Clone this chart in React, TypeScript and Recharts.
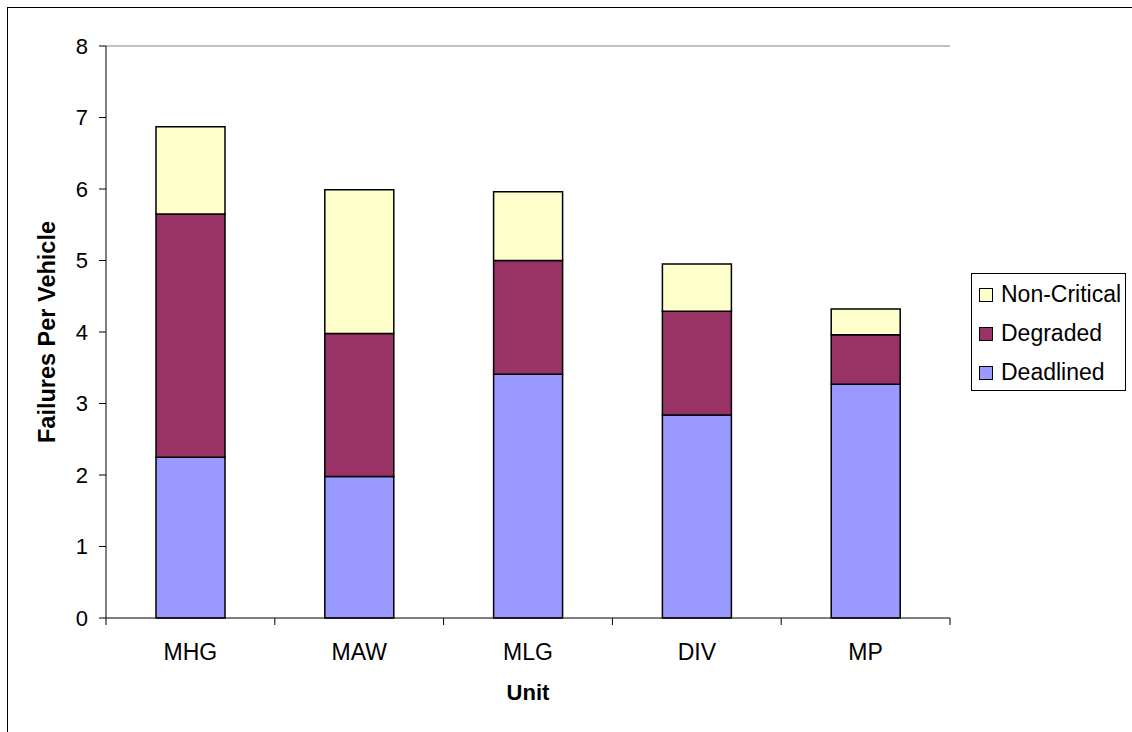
import { BarChart, Bar, XAxis, YAxis, ReferenceLine } from "recharts";

const units = ["MHG", "MAW", "MLG", "DIV", "MP"];
const deadlined = [2.25, 1.98, 3.41, 2.84, 3.27];
const degraded = [3.4, 2.0, 1.59, 1.45, 0.69];
const nonCritical = [1.22, 2.01, 0.96, 0.66, 0.36];
const yTicks = [0, 1, 2, 3, 4, 5, 6, 7, 8];

const data = units.map((unit, i) => ({
  unit,
  deadlined: deadlined[i],
  degraded: degraded[i],
  nonCritical: nonCritical[i],
}));

const FONT = "'Liberation Sans', Arial, sans-serif";
const W = 1124;
const H = 724;
const margin = { top: 38, right: 182, left: 38, bottom: 24 };
const Y_W = 60;
const plotW = W - margin.left - Y_W - margin.right;
const band = plotW / units.length;

// Excel-style ticks sit between categories, label in the middle
function UnitTick(props: any) {
  const { x, y, payload, index } = props;
  const half = band / 2;
  return (
    <g>
      <line x1={x - half} x2={x - half} y1={y} y2={y + 7} stroke="#000" />
      {index === units.length - 1 && (
        <line x1={x + half} x2={x + half} y1={y} y2={y + 7} stroke="#000" />
      )}
      <text x={x} y={y + 26} dy="0.71em" textAnchor="middle" fontSize={23} fill="#000" fontFamily={FONT}>
        {payload.value}
      </text>
    </g>
  );
}

const legendItems = [
  { name: "Non-Critical", color: "#FFFFCC" },
  { name: "Degraded", color: "#993366" },
  { name: "Deadlined", color: "#9999FF" },
];

function LegendBox() {
  return (
    <div
      style={{
        position: "absolute",
        left: 963,
        top: 265,
        border: "1px solid #000",
        width: 153,
        height: 115,
        fontFamily: FONT,
        fontSize: 23,
        color: "#000",
        paddingTop: 1,
        boxSizing: "content-box",
      }}
    >
      {legendItems.map((it) => (
        <div key={it.name} style={{ display: "flex", alignItems: "center", height: 39, paddingLeft: 7 }}>
          <span
            style={{
              display: "inline-block",
              width: 12,
              height: 12,
              background: it.color,
              border: "1px solid #000",
              marginRight: 8,
            }}
          />
          <span style={{ whiteSpace: "nowrap" }}>{it.name}</span>
        </div>
      ))}
    </div>
  );
}

export default function App() {
  return (
    <div
      style={{
        position: "fixed",
        left: 7,
        top: 7,
        width: 1200,
        height: 800,
        border: "1px solid #000",
        background: "#fff",
      }}
    >
      <BarChart width={W} height={H} data={data} margin={margin} barSize={69}>
        <XAxis
          dataKey="unit"
          height={90}
          tickLine={false}
          tickSize={0}
          tickMargin={0}
          axisLine={{ stroke: "#000" }}
          tick={<UnitTick />}
          interval={0}
          label={{
            value: "Unit",
            position: "insideBottom",
            offset: 8,
            style: { fontFamily: FONT, fontSize: 22, fontWeight: "bold", fill: "#000" },
          }}
        />
        <YAxis
          yAxisId="left"
          width={Y_W}
          domain={[0, 8]}
          ticks={yTicks}
          interval={0}
          tickSize={7}
          tickMargin={11}
          axisLine={{ stroke: "#000" }}
          tickLine={{ stroke: "#000" }}
          tick={{ fontFamily: FONT, fontSize: 22, fill: "#000" }}
          label={{
            value: "Failures Per Vehicle",
            angle: -90,
            position: "center",
            dx: -29,
            style: { fontFamily: FONT, fontSize: 23.5, fontWeight: "bold", fill: "#000" },
          }}
        />
        <YAxis
          yAxisId="right"
          orientation="right"
          width={0}
          domain={[0, 8]}
          tick={false}
          tickLine={false}
          axisLine={{ stroke: "#808080" }}
        />
        <ReferenceLine yAxisId="left" y={8} stroke="#808080" />
        <Bar yAxisId="left" dataKey="deadlined" name="Deadlined" stackId="a" fill="#9999FF" stroke="#000" strokeWidth={1.5} isAnimationActive={false} />
        <Bar yAxisId="left" dataKey="degraded" name="Degraded" stackId="a" fill="#993366" stroke="#000" strokeWidth={1.5} isAnimationActive={false} />
        <Bar yAxisId="left" dataKey="nonCritical" name="Non-Critical" stackId="a" fill="#FFFFCC" stroke="#000" strokeWidth={1.5} isAnimationActive={false} />
      </BarChart>
      <LegendBox />
    </div>
  );
}
